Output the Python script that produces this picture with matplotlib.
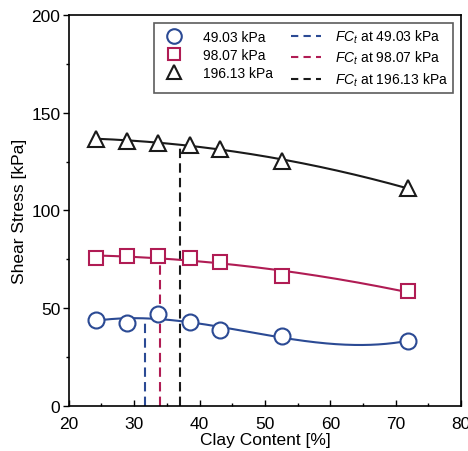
import numpy as np
import matplotlib.pyplot as plt
from matplotlib.lines import Line2D

plt.rcParams['font.family'] = ['Liberation Sans', 'DejaVu Sans']
plt.rcParams['mathtext.fontset'] = 'custom'
plt.rcParams['mathtext.it'] = 'Liberation Sans:italic'
plt.rcParams['mathtext.rm'] = 'Liberation Sans'

clay = [24.1, 28.9, 33.6, 38.5, 43.1, 52.6, 71.9]
stress_49 = [44.1, 42.6, 47.2, 43.1, 38.7, 35.6, 33.3]
stress_98 = [75.8, 76.5, 76.5, 75.8, 73.6, 66.7, 58.8]
stress_196 = [136.6, 135.8, 134.6, 133.6, 131.5, 125.5, 111.4]
fct = [31.6, 34.0, 36.95]
labels = ['49.03 kPa', '98.07 kPa', '196.13 kPa']
colors = ['#2b4a94', '#b01c54', '#1a1a1a']
markers = ['o', 's', '^']
fit_deg = [3, 2, 2]
msize = {'o': 11.5, 's': 10, '^': 11.5}

fig = plt.figure(figsize=(4.68, 4.52), dpi=100)
ax = fig.add_axes([0.147, 0.0996, 0.838, 0.865])

xs = np.linspace(clay[0], clay[-1], 200)
handles_pts = []
handles_fc = []
dash = (0, (4.5, 2.5))
for ys, c, m, d, f, lab in zip([stress_49, stress_98, stress_196], colors, markers,
                                fit_deg, fct, labels):
    coef = np.polyfit(clay, ys, d)
    ax.plot(xs, np.polyval(coef, xs), color=c, lw=1.5, zorder=2)
    ax.plot(clay, ys, ls='none', marker=m, ms=msize[m], mfc='white',
            mec=c, mew=1.5, zorder=3)
    ax.plot([f, f], [0, np.polyval(coef, f)], color=c, lw=1.5, ls=dash, zorder=1)
    handles_pts.append(Line2D([], [], ls='none', marker=m, ms=msize[m] - 1,
                              mfc='white', mec=c, mew=1.5, label=lab))
    handles_fc.append(Line2D([], [], color=c, lw=1.5, ls=(0, (3.5, 2.5)),
                             label='$FC_t$ at ' + lab))

ax.set_xlim(20, 80)
ax.set_ylim(0, 200)
ax.set_xticks(np.arange(20, 81, 10))
ax.set_xticks(np.arange(25, 80, 10), minor=True)
ax.set_yticks(np.arange(0, 201, 50))
ax.set_yticks(np.arange(25, 200, 50), minor=True)
ax.tick_params(axis='x', which='major', direction='in', length=4, width=1, labelsize=12.5, pad=7)
ax.tick_params(axis='x', which='minor', direction='in', length=2.5, width=1)
ax.tick_params(axis='y', which='major', direction='out', length=4, width=1, labelsize=12.5, pad=2)
ax.tick_params(axis='y', which='minor', direction='out', length=2.5, width=1)
for sp in ax.spines.values():
    sp.set_linewidth(1.2)
ax.set_xlabel('Clay Content [%]', fontsize=12.5, labelpad=1)
ax.set_ylabel('Shear Stress [kPa]', fontsize=12.5, labelpad=3)

leg = ax.legend(handles=handles_pts + handles_fc, ncol=2, loc='upper right',
                fontsize=10, frameon=True, fancybox=False, edgecolor='#333333',
                borderaxespad=0.55, borderpad=0.35, handlelength=2.2, columnspacing=1.3,
                labelspacing=0.3, handletextpad=1.0)
leg.get_frame().set_linewidth(1.2)

fig.savefig('out.png', dpi=100)
